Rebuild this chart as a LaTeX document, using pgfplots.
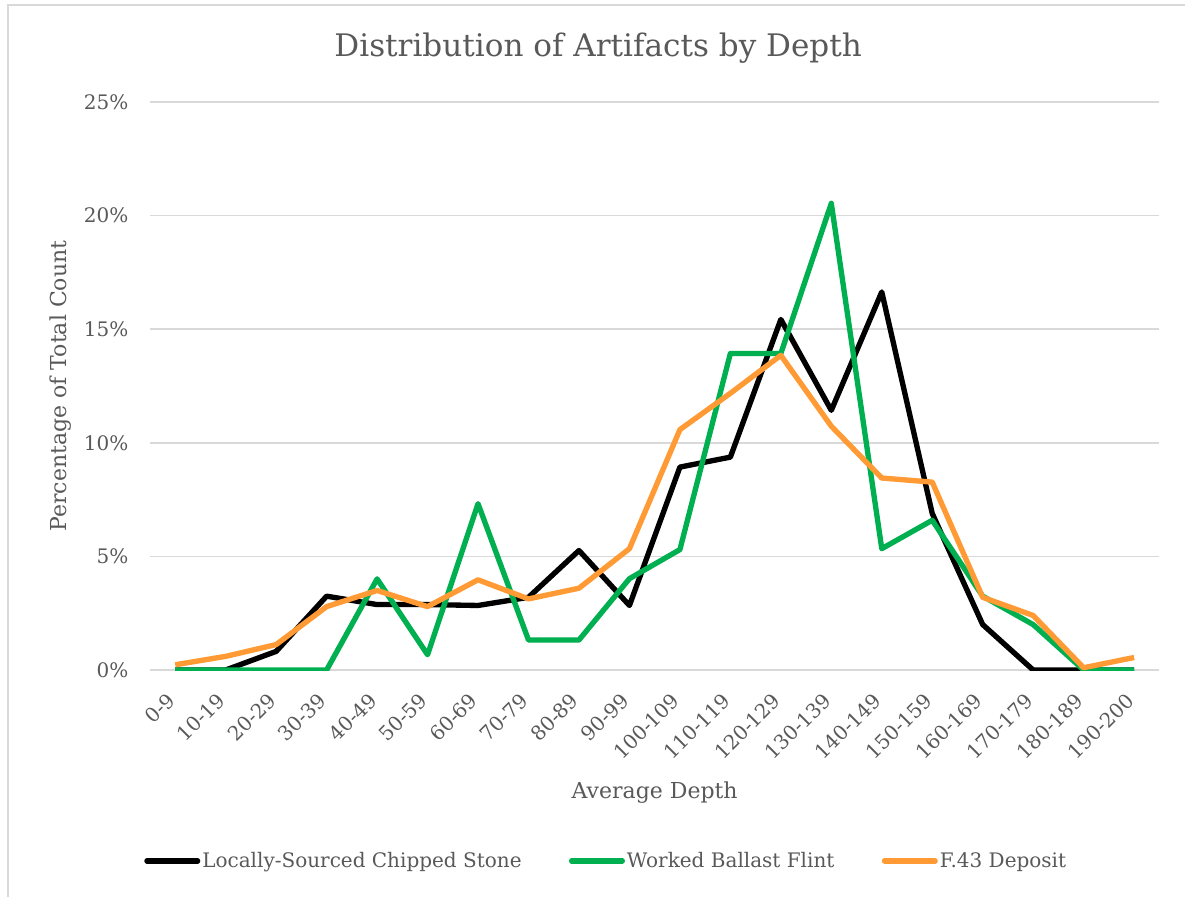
\documentclass[border=0pt]{standalone}
\usepackage{fontspec}
\setmainfont{DejaVu Serif}
\usepackage{pgfplots}
\pgfplotsset{compat=1.18}
\definecolor{txt}{HTML}{595959}
\definecolor{gridc}{HTML}{D9D9D9}
\definecolor{cgreen}{HTML}{00B050}
\definecolor{corange}{HTML}{FF9A35}
\begin{document}
\begin{tikzpicture}
\useasboundingbox (-112.5pt,-170.25pt) rectangle (776.25pt,502.5pt);
\draw[gridc, line width=1.2pt] (-106.5pt,-170.25pt) -- (-106.5pt,498.75pt) -- (776.25pt,498.75pt);
\begin{axis}[
  at={(0pt,0pt)}, anchor=south west,
  scale only axis, width=757pt, height=426pt,
  xmin=-0.5, xmax=19.5, ymin=0, ymax=25,
  xtick={0,...,19},
  xticklabels={0-9,10-19,20-29,30-39,40-49,50-59,60-69,70-79,80-89,90-99,100-109,110-119,120-129,130-139,140-149,150-159,160-169,170-179,180-189,190-200},
  ytick={0,5,10,15,20,25},
  yticklabel={\pgfmathprintnumber{\tick}\%},
  /pgf/number format/assume math mode=true,
  ymajorgrids, grid style={gridc, line width=1.1pt},
  axis line style={draw=none}, tick style={draw=none},
  major tick length=0pt,
  ticklabel style={font=\fontsize{15}{18}\selectfont, text=txt},
  yticklabel style={anchor=east, inner sep=0pt, xshift=-16pt},
  xticklabel style={xshift=-3pt, yshift=-20pt, rotate=45, anchor=east, inner sep=0pt},
  xlabel={Average Depth}, ylabel={Percentage of Total Count},
  label style={font=\fontsize{16.5}{20}\selectfont, text=txt},
  xlabel style={at={(axis description cs:0.5,-0.215)}, anchor=center},
  ylabel style={at={(axis description cs:-0.089,0.5)}, anchor=center, rotate=0},
  title={Distribution of Artifacts by Depth},
  every axis title shift=0pt,
  title style={at={(axis description cs:0.444,1.095)}, anchor=center, font=\fontsize{23.3}{28}\selectfont, text=txt},
  legend columns=3,
  legend style={at={(axis description cs:0.452,-0.336)}, anchor=center, draw=none, fill=none,
    font=\fontsize{15}{18}\selectfont, text=txt,
    /tikz/every even column/.append style={column sep=34pt},
    nodes={inner sep=1.5pt}},
  legend image code/.code={\draw[#1, line width=4pt, line cap=round] (0pt,0pt) -- (38pt,0pt);},
  every axis plot/.append style={line width=4pt, line join=round, mark=none},
]
\addplot[black] coordinates {
(0,0) (1,0) (2,0.82) (3,3.25) (4,2.88) (5,2.88) (6,2.84) (7,3.2) (8,5.26) (9,2.84)
(10,8.93) (11,9.37) (12,15.43) (13,11.43) (14,16.64) (15,6.89) (16,2.0) (17,0) (18,0) (19,0)};
\addlegendentry{Locally-Sourced Chipped Stone}
\addplot[cgreen] coordinates {
(0,0) (1,0) (2,0) (3,0) (4,4.01) (5,0.67) (6,7.32) (7,1.32) (8,1.32) (9,4.02)
(10,5.3) (11,13.93) (12,13.93) (13,20.54) (14,5.34) (15,6.59) (16,3.25) (17,2.0) (18,0) (19,0)};
\addlegendentry{Worked Ballast Flint}
\addplot[corange] coordinates {
(0,0.23) (1,0.6) (2,1.12) (3,2.79) (4,3.5) (5,2.79) (6,3.97) (7,3.13) (8,3.6) (9,5.34)
(10,10.58) (11,12.18) (12,13.85) (13,10.73) (14,8.45) (15,8.27) (16,3.2) (17,2.4) (18,0.1) (19,0.55)};
\addlegendentry{F.43 Deposit}
\end{axis}
\end{tikzpicture}
\end{document}
